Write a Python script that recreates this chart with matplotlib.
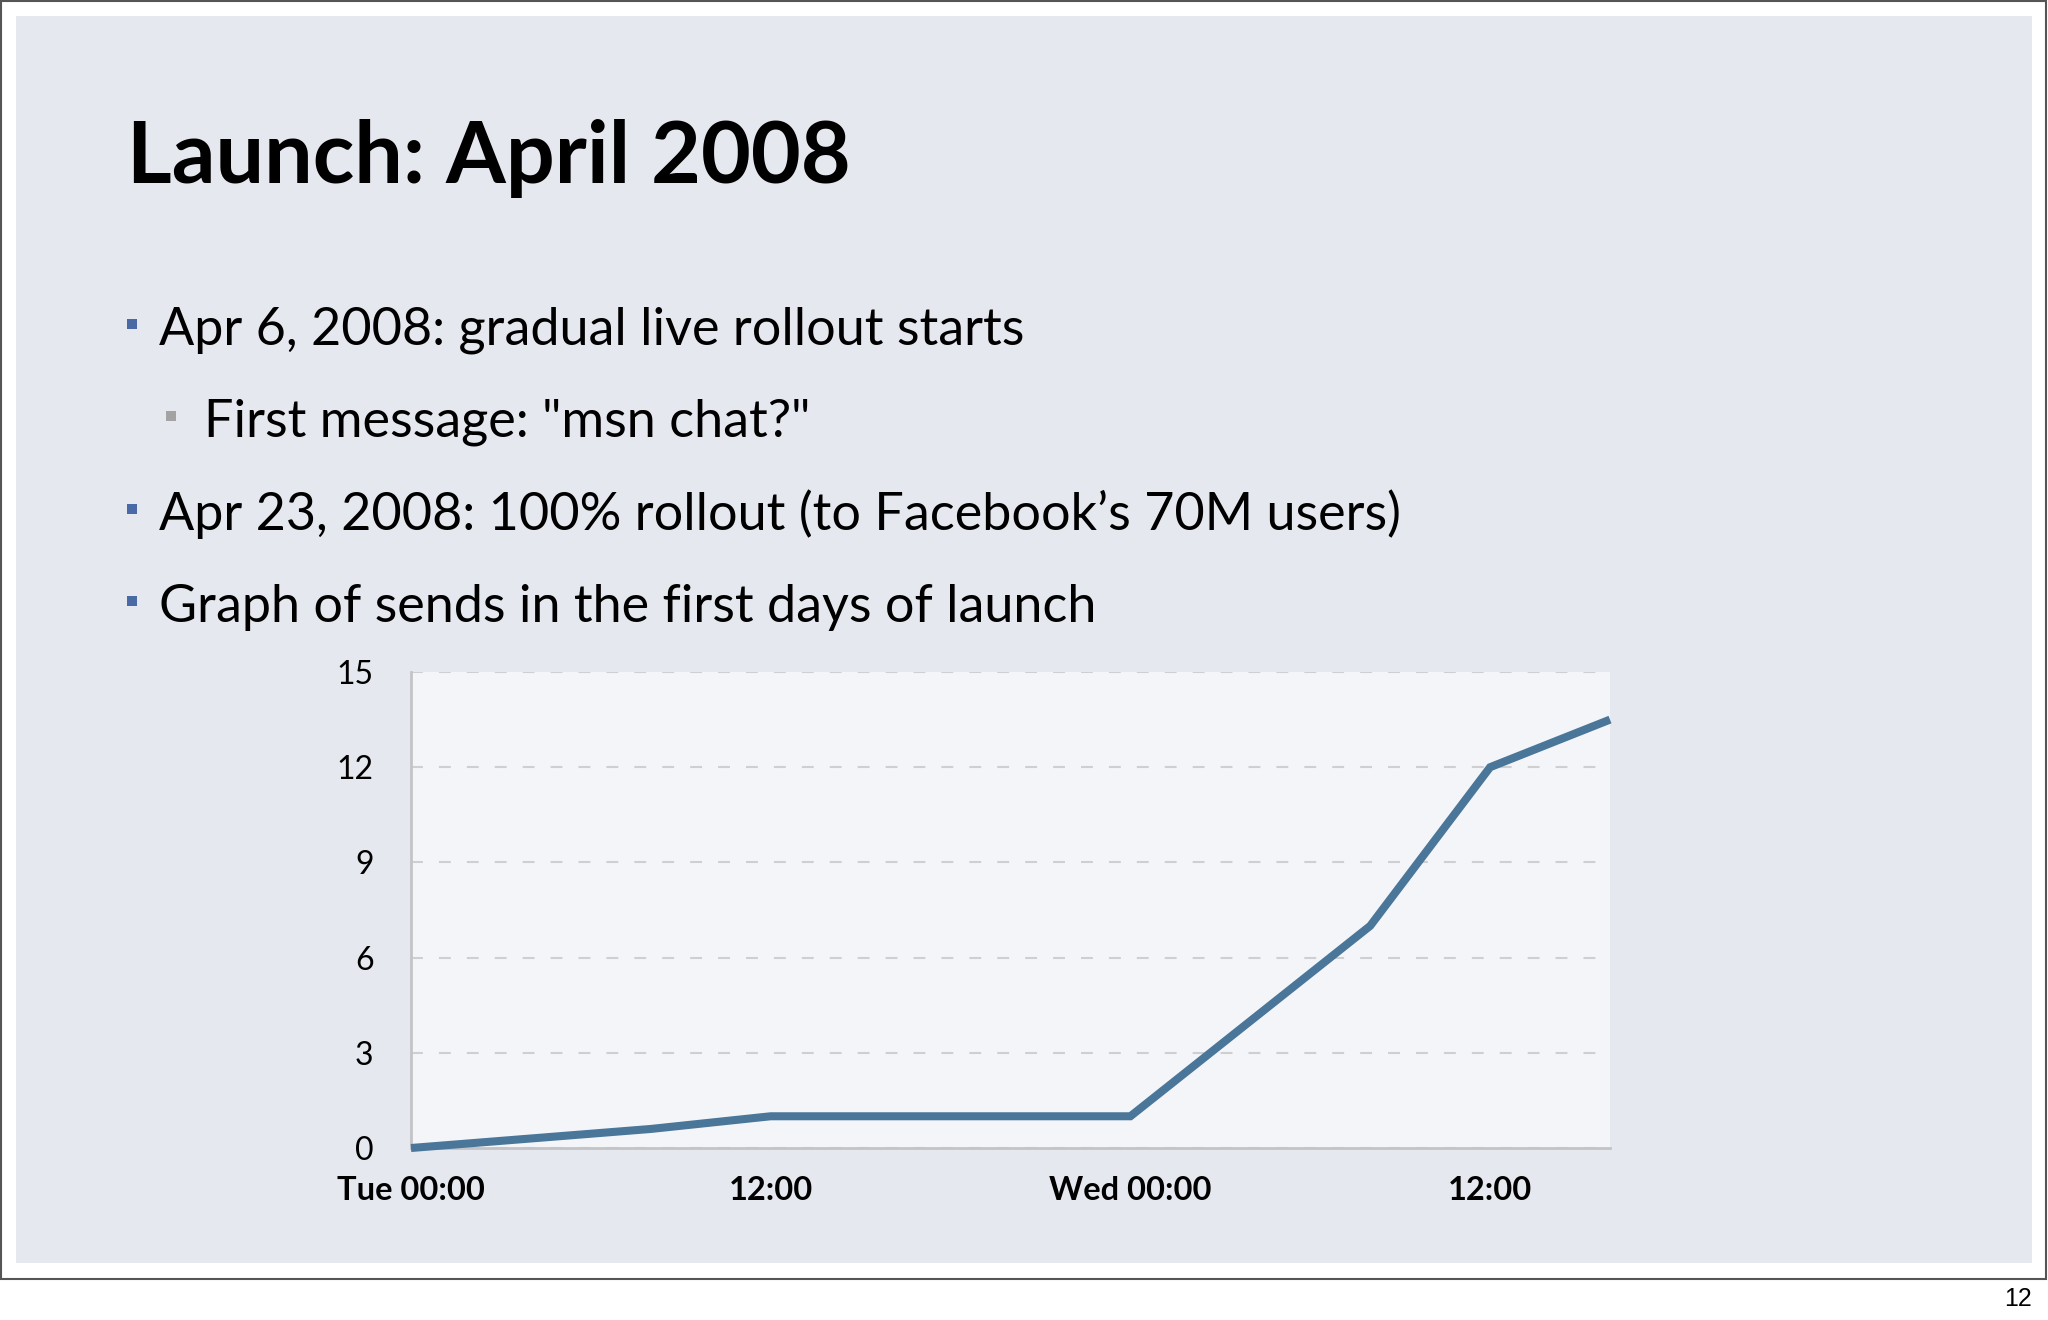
import matplotlib
matplotlib.use('Agg')
import matplotlib.pyplot as plt
from matplotlib import font_manager
from matplotlib.patches import Rectangle

# ---------------- data ----------------
hours = [0, 8, 12, 24, 32, 36, 40]
sends = [0, 0.6, 1, 1, 7, 12, 13.5]
y_ticks = [0, 3, 6, 9, 12, 15]
x_ticks = [0, 12, 24, 36]
x_tick_labels = ['Tue 00:00', '12:00', 'Wed 00:00', '12:00']
title_text = 'Launch: April 2008'
bullet_levels = [0, 1, 0, 0]
bullet_texts = ['Apr 6, 2008: gradual live rollout starts',
                'First message: "msn chat?"',
                'Apr 23, 2008: 100% rollout (to Facebook\u2019s 70M users)',
                'Graph of sends in the first days of launch']
page_number = '12'

# ---------------- style ----------------
W, H = 2048, 1320
SLIDE_BG = '#e6e8f0'
PLOT_BG = '#f4f5f8'
LINE_C = '#4a7699'


def pick(cands):
    for c in cands:
        try:
            font_manager.findfont(font_manager.FontProperties(family=c),
                                  fallback_to_default=False)
            return c
        except Exception:
            pass
    return 'DejaVu Sans'


FAM = pick(['Liberation Sans Narrow', 'Lato', 'Open Sans'])
HELV = pick(['Liberation Sans', 'DejaVu Sans'])


def fx(x):
    return x / W


def fy(y):
    return 1 - y / H


fig = plt.figure(figsize=(W / 100, H / 100), dpi=100)
fig.patch.set_facecolor('white')

# outer frame and slide background
fig.patches.append(Rectangle((fx(1), fy(1279)), fx(2045), 1278 / H,
                             transform=fig.transFigure, facecolor='none',
                             edgecolor='#555555', linewidth=1.5, zorder=-2))
fig.patches.append(Rectangle((fx(16), fy(1263)), fx(2016), 1247 / H,
                             transform=fig.transFigure, facecolor=SLIDE_BG,
                             edgecolor='none', zorder=-1))

renderer = fig.canvas.get_renderer()

# title
t = fig.text(fx(127), fy(183), title_text, fontsize=68, fontweight='bold',
             family=FAM, color='black', ha='left', va='baseline')
bb = t.get_window_extent(renderer)
t.set_fontsize(68 * 724 / bb.width)

# bullets
baselines = [345, 437, 530, 622]
text_x = {0: 159, 1: 204}
sq = {0: (127, '#4a6aa6'), 1: (166, '#a3a3a3')}
texts = []
for lvl, txt, yb in zip(bullet_levels, bullet_texts, baselines):
    tt = fig.text(fx(text_x[lvl]), fy(yb), txt, fontsize=40, family=FAM,
                  color='black', ha='left', va='baseline')
    texts.append(tt)
    sx, col = sq[lvl]
    fig.patches.append(Rectangle((fx(sx), fy(yb - 16)), 10 / W, 10 / H,
                                 transform=fig.transFigure, facecolor=col,
                                 edgecolor='none', zorder=1))
bb = texts[2].get_window_extent(renderer)
bsize = 40 * 1241 / bb.width
for tt in texts:
    tt.set_fontsize(bsize)

# page number
fig.text(fx(2032), fy(1306), page_number, fontsize=18, family=HELV,
         color='black', ha='right', va='baseline')

# chart
ax = fig.add_axes([fx(411), fy(1148), (1610 - 411) / W, (1148 - 672) / H])
ax.set_zorder(2)
ax.set_facecolor(PLOT_BG)
ax.plot(hours, sends, color=LINE_C, linewidth=5.8, solid_capstyle='butt',
        solid_joinstyle='miter', clip_on=False, zorder=3)
ax.set_xlim(0, 40)
ax.set_ylim(0, 15)
ax.set_yticks(y_ticks)
ax.set_yticklabels([str(v) for v in y_ticks], family=FAM, fontsize=23)
ax.set_xticks(x_ticks)
ax.set_xticklabels(x_tick_labels, family=FAM, fontsize=23.5, fontweight='bold')
ax.tick_params(axis='both', length=0, colors='black')
ax.tick_params(axis='y', pad=27)
ax.tick_params(axis='x', pad=20)
ax.yaxis.grid(True, color='#cfcfd2', linewidth=1.5, linestyle=(0, (5.7, 7.7)))
ax.set_axisbelow(True)
for s in ['top', 'right']:
    ax.spines[s].set_visible(False)
for s in ['left', 'bottom']:
    ax.spines[s].set_color('#c4c4c6')
    ax.spines[s].set_linewidth(2)

fig.savefig('out.png', dpi=100, facecolor='white')
